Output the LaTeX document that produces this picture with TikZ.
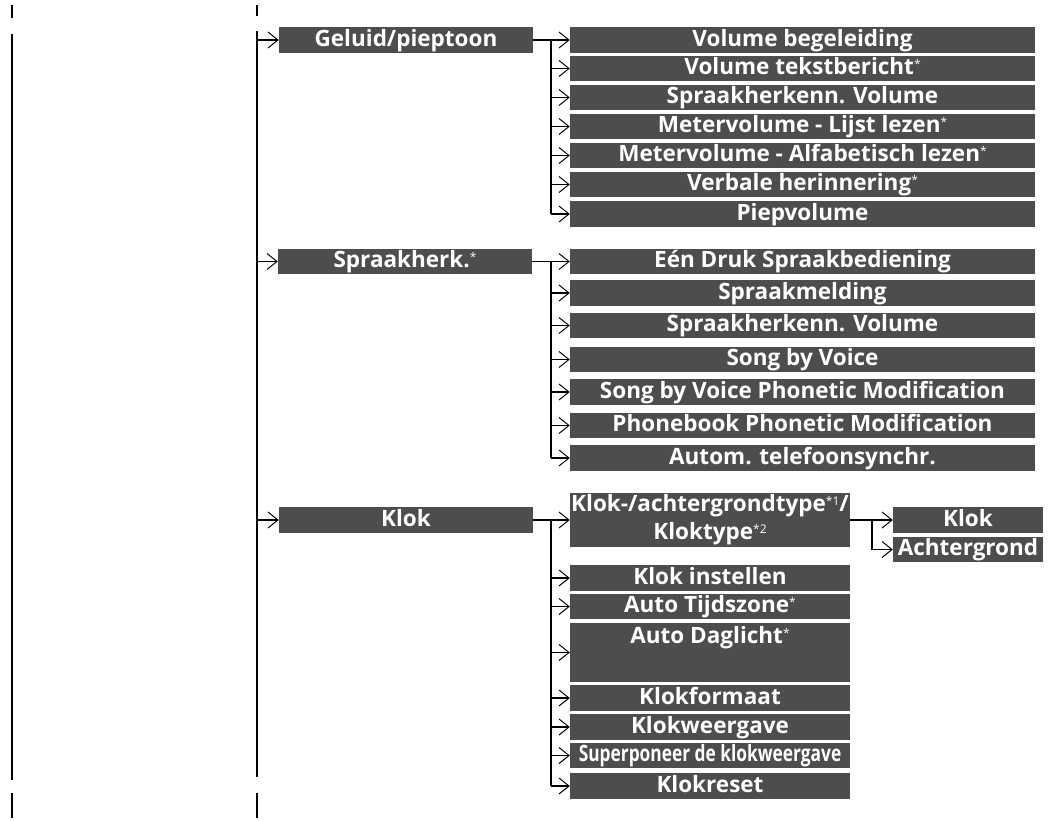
\documentclass[tikz,border=0pt]{standalone}
\usepackage{fontspec}
\setmainfont{Open Sans}
\usetikzlibrary{arrows.meta}
\definecolor{boxgray}{HTML}{4D4D4D}
\newcommand\mysup[1]{{\fontsize{12}{12}\selectfont\mdseries\raisebox{6pt}{#1}}}
\begin{document}
\begin{tikzpicture}[x=1pt,y=-1pt,
  box/.style={fill=boxgray,text=white,font=\fontsize{22.5}{28}\selectfont\bfseries,inner sep=0pt,
    minimum height=25.5pt,text height=19pt,text depth=6.5pt,align=center},
  lone/.style={box,minimum width=254pt},
  ltwo/.style={box,minimum width=465pt},
  lk/.style={box,minimum width=280pt},
  lthree/.style={box,minimum width=150pt},
  spine/.style={line width=2pt},
  tick/.style={line width=1.5pt},
  conn/.style={line width=1.6pt},
  arr/.style={conn,-{Straight Barb[length=10pt,width=16pt,line width=1pt]}}]
\useasboundingbox (0,0) rectangle (1052,821);

% spines
\draw[tick] (12,5) -- (12,18);
\draw[spine] (12,34) -- (12,780);
\draw[tick] (12,793) -- (12,818);
\draw[tick] (257,5) -- (257,16);
\draw[spine] (257,31) -- (257,777);
\draw[tick] (257,793) -- (257,818);
\coordinate (sp) at (257,0);
\coordinate (j) at (551,0);
\coordinate (jk) at (872,0);

% level 1
\node[lone] (g) at (406,40) {Geluid/pieptoon};
\node[lone] (s) at (405,261.5) {Spraakherk.\mysup{*}};
\node[lone] (k) at (406,520) {Klok};

% Geluid children
\node[ltwo] (g1) at (802.5,40) {Volume begeleiding};
\node[ltwo] (g2) at (802.5,68.5) {Volume tekstbericht\mysup{*}};
\node[ltwo] (g3) at (802.5,97.5) {Spraakherkenn. Volume};
\node[ltwo] (g4) at (802.5,126.5) {Metervolume - Lijst lezen\mysup{*}};
\node[ltwo] (g5) at (802.5,155.5) {Metervolume - Alfabetisch lezen\mysup{*}};
\node[ltwo] (g6) at (802.5,184.5) {Verbale herinnering\mysup{*}};
\node[ltwo] (g7) at (802.5,214) {Piepvolume};

% Spraakherk children
\node[ltwo] (s1) at (802.5,261.5) {Eén Druk Spraakbediening};
\node[ltwo] (s2) at (802.5,293) {Spraakmelding};
\node[ltwo] (s3) at (802.5,325.5) {Spraakherkenn. Volume};
\node[ltwo] (s4) at (802.5,359.5) {Song by Voice};
\node[ltwo] (s5) at (802.5,392) {Song by Voice Phonetic Modification};
\node[ltwo] (s6) at (802.5,425.5) {Phonebook Phonetic Modification};
\node[ltwo] (s7) at (802.5,458) {Autom. telefoonsynchr.};

% Klok children
\node[lk,minimum height=54pt,text height=,text depth=] (k1) at (710,520) {Klok-/achtergrondtype\mysup{*1}/\\Kloktype\mysup{*2}};
\node[lk] (k2) at (710,578) {Klok instellen};
\node[lk] (k3) at (710,606.5) {Auto Tijdszone\mysup{*}};
\node[lk,minimum height=59pt,text height=20pt,text depth=39pt] (k4) at (710,652.5) {Auto Daglicht\mysup{*}};
\node[lk] (k5) at (710,698) {Klokformaat};
\node[lk] (k6) at (710,727) {Klokweergave};
\node[lk] (k7) at (710,755.5) {\scalebox{0.77}[1]{Superponeer de klokweergave}};
\node[lk] (k8) at (710,786) {Klokreset};

% level 3
\node[lthree] (t1) at (968,520) {Klok};
\node[lthree] (t2) at (968,549.5) {Achtergrond};

% level 1 arrows
\foreach \n in {g,s,k} \draw[arr] (sp |- \n.west) -- (\n.west);

% Geluid connectors
\draw[arr] (g.east) -- (g1.west);
\draw[conn] (j |- g1.west) -- (j |- g7.west);
\foreach \n in {g2,g3,g4,g5,g6,g7} \draw[arr] (j |- \n.west) -- (\n.west);

% Spraakherk connectors
\draw[arr] (s.east) -- (s1.west);
\draw[conn] (j |- s1.west) -- (j |- s7.west);
\foreach \n in {s2,s3,s4,s5,s6,s7} \draw[arr] (j |- \n.west) -- (\n.west);

% Klok connectors
\draw[arr] (k.east) -- (k1.west);
\draw[conn] (j |- k1.west) -- (j |- k8.west);
\foreach \n in {k2,k3,k4,k5,k6,k7,k8} \draw[arr] (j |- \n.west) -- (\n.west);

% level 3 connectors
\draw[arr] (k1.east) -- (t1.west);
\draw[conn] (jk |- t1.west) -- (jk |- t2.west);
\draw[arr] (jk |- t2.west) -- (t2.west);
\end{tikzpicture}
\end{document}
